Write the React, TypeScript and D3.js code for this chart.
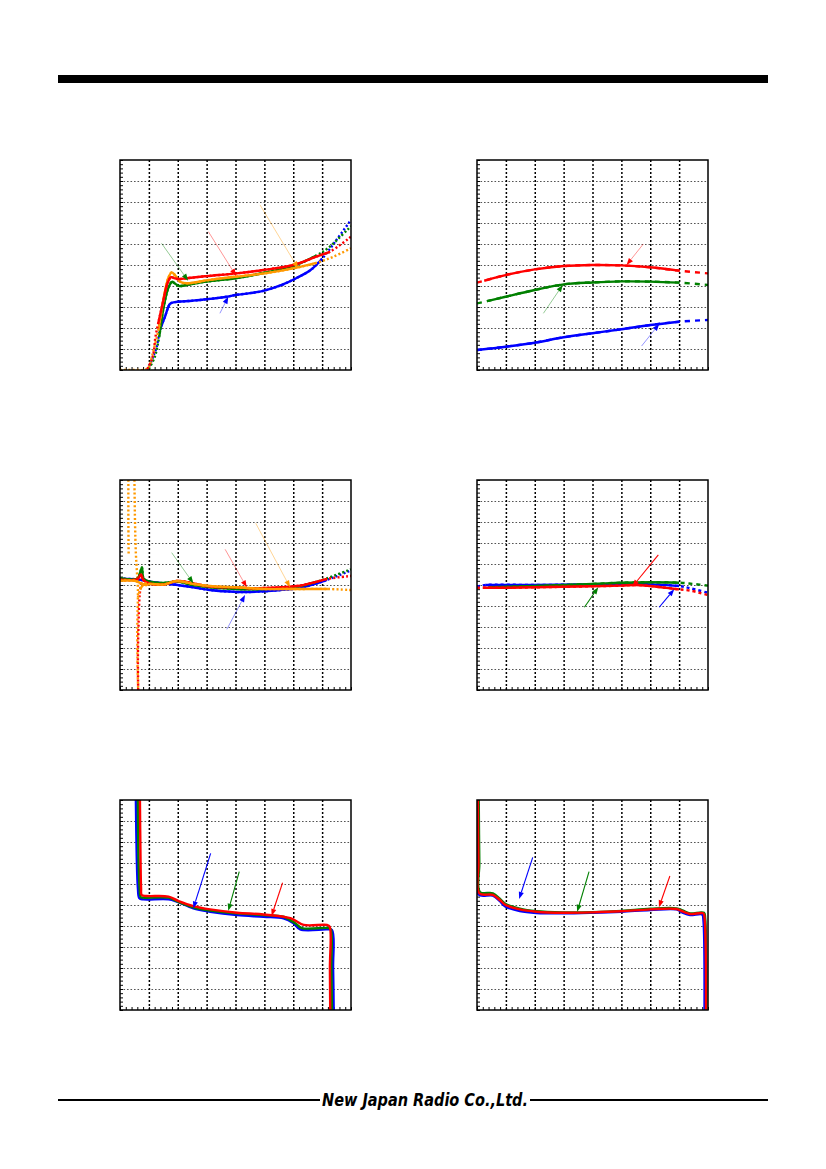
import { useEffect, useRef } from "react";
import * as d3 from "d3";

type Pt = [number, number];

// Grid units: 8 horizontal divisions, 10 vertical divisions per panel (axis labels are blank on the page)

// ── Panel 1 ──────────────────────────────────────────────────────────────────
const p1Blue: Pt[] = [[0.92, 0], [1.05, 0.3], [1.15, 0.65], [1.27, 1.1], [1.38, 1.9], [1.56, 2.55], [1.73, 3.15], [1.85, 3.22], [2.5, 3.3], [3.0, 3.37], [3.7, 3.49], [4.0, 3.57], [4.5, 3.66], [5.0, 3.78], [5.6, 4.05], [6.1, 4.37], [6.6, 4.76], [7.0, 5.3], [7.5, 6.2], [8.0, 7.15]];
const p1Green: Pt[] = [[1.0, 0.05], [1.2, 0.6], [1.28, 1.03], [1.36, 1.6], [1.5, 2.9], [1.67, 3.9], [1.8, 4.2], [1.9, 4.12], [2.05, 4.0], [2.3, 4.05], [3.0, 4.21], [4.0, 4.37], [5.0, 4.63], [6.0, 4.95], [6.8, 5.45], [7.2, 5.8], [8.0, 6.85]];
const p1Orange: Pt[] = [[0, 0], [0.5, 0], [0.9, 0.03], [1.02, 0.2], [1.1, 0.6], [1.2, 1.15], [1.33, 1.9], [1.5, 3.33], [1.67, 4.37], [1.79, 4.65], [1.9, 4.52], [2.08, 4.2], [2.31, 4.13], [3.1, 4.29], [4.0, 4.44], [5.0, 4.6], [6.0, 4.84], [6.8, 5.1], [7.4, 5.4], [8.0, 5.8]];
const p1Red: Pt[] = [[0.95, 0.05], [1.1, 0.5], [1.17, 0.87], [1.22, 1.5], [1.32, 2.2], [1.5, 3.3], [1.65, 4.15], [1.77, 4.42], [1.9, 4.36], [2.05, 4.33], [2.31, 4.37], [3.0, 4.47], [4.04, 4.6], [4.96, 4.76], [6.0, 5.0], [6.8, 5.4], [7.27, 5.63], [8.0, 6.35]];
const p1Arrows = [
  { c: "green", from: [1.44, 6.03] as Pt, to: [2.36, 4.25] as Pt },
  { c: "red", from: [3.06, 6.59] as Pt, to: [4.02, 4.48] as Pt },
  { c: "orange", from: [4.85, 7.86] as Pt, to: [6.17, 4.84] as Pt },
  { c: "blue", from: [3.46, 2.7] as Pt, to: [3.75, 3.49] as Pt },
];

// ── Panel 2 ──────────────────────────────────────────────────────────────────
const p2Red: Pt[] = [[0, 4.16], [0.25, 4.25], [0.99, 4.52], [2.0, 4.79], [3.0, 4.95], [4.0, 5.0], [5.0, 4.98], [6.0, 4.89], [7.0, 4.73], [8.0, 4.6]];
const p2Green: Pt[] = [[0, 3.17], [0.35, 3.28], [0.99, 3.49], [2.0, 3.81], [3.0, 4.08], [4.0, 4.17], [5.0, 4.22], [6.0, 4.21], [7.0, 4.16], [8.0, 4.05]];
const p2Blue: Pt[] = [[0, 0.95], [0.99, 1.11], [2.0, 1.3], [3.0, 1.56], [4.0, 1.75], [5.0, 1.94], [6.0, 2.14], [7.0, 2.3], [8.0, 2.38]];
const p2Arrows = [
  { c: "red", from: [5.76, 6.0] as Pt, to: [5.18, 5.0] as Pt },
  { c: "green", from: [2.3, 2.7] as Pt, to: [2.97, 4.05] as Pt },
  { c: "blue", from: [5.7, 1.14] as Pt, to: [6.31, 2.19] as Pt },
];

// ── Panel 3 ──────────────────────────────────────────────────────────────────
const p3Blue: Pt[] = [[0, 5.3], [0.6, 5.27], [0.75, 5.24], [1.04, 5.16], [1.5, 5.08], [2.0, 5.0], [2.54, 4.89], [3.12, 4.76], [4.05, 4.67], [4.5, 4.67], [5.0, 4.7], [5.55, 4.76], [6.13, 4.84], [6.82, 5.08], [7.17, 5.24], [8.0, 5.7]];
const p3Green: Pt[] = [[0, 5.32], [0.6, 5.3], [0.7, 5.6], [0.76, 5.84], [0.82, 5.3], [1.04, 5.16], [1.5, 5.1], [1.97, 5.16], [2.54, 5.0], [3.12, 4.89], [4.05, 4.81], [4.5, 4.79], [5.0, 4.81], [5.55, 4.84], [6.13, 4.92], [6.82, 5.16], [7.17, 5.32], [8.0, 5.75]];
const p3Red: Pt[] = [[0, 5.25], [0.6, 5.28], [0.73, 5.5], [0.8, 5.25], [1.0, 5.08], [1.5, 5.02], [1.97, 5.19], [2.54, 5.08], [3.12, 4.92], [4.05, 4.89], [4.5, 4.84], [5.0, 4.86], [5.55, 4.89], [6.13, 4.95], [6.82, 5.16], [7.17, 5.29], [8.0, 5.43]];
const p3Orange: Pt[] = [[0, 5.2], [0.5, 5.2], [0.9, 5.0], [1.04, 5.05], [1.5, 5.02], [1.97, 5.19], [2.54, 5.05], [3.12, 4.95], [4.05, 4.89], [5.0, 4.81], [6.0, 4.81], [7.2, 4.81], [8.0, 4.76]];
const p3OrangeSpikeA: Pt[] = [[0.29, 10], [0.29, 8], [0.3, 6.4]];
const p3OrangeSpikeB: Pt[] = [[0.5, 10], [0.52, 8], [0.55, 6.5], [0.58, 5.75], [0.62, 4.8], [0.6, 3], [0.61, 1], [0.63, 0]];
const p3RedSpike: Pt[] = [[0.75, 5.3], [0.68, 4.5], [0.64, 3], [0.62, 1.5], [0.63, 0]];
const p3OrangeRise: Pt[] = [[0.62, 4.4], [0.7, 4.8], [0.8, 5.0], [0.92, 5.1]];
const p3Arrows = [
  { c: "green", from: [1.79, 6.54] as Pt, to: [2.54, 5.08] as Pt },
  { c: "red", from: [3.64, 6.7] as Pt, to: [4.39, 4.89] as Pt },
  { c: "orange", from: [4.7, 7.94] as Pt, to: [5.89, 4.89] as Pt },
  { c: "blue", from: [3.7, 2.89] as Pt, to: [4.33, 4.52] as Pt },
];

// ── Panel 4 ──────────────────────────────────────────────────────────────────
const p4Blue: Pt[] = [[0, 4.92], [0.3, 5.0], [2.0, 5.0], [4.0, 5.03], [5.0, 5.05], [6.0, 5.03], [7.0, 4.95], [7.4, 4.84], [8.0, 4.63]];
const p4Green: Pt[] = [[0.4, 4.89], [2.0, 4.95], [4.0, 5.05], [5.0, 5.11], [6.0, 5.13], [7.0, 5.11], [7.5, 5.05], [8.0, 4.97]];
const p4Red: Pt[] = [[0, 4.87], [0.2, 4.87], [1.0, 4.87], [2.0, 4.89], [4.0, 4.94], [5.0, 4.97], [5.5, 5.0], [6.0, 4.95], [6.7, 4.84], [7.0, 4.79], [7.4, 4.73], [8.0, 4.52]];
const p4Arrows = [
  { c: "red", from: [6.28, 6.43] as Pt, to: [5.38, 4.92] as Pt },
  { c: "green", from: [3.72, 3.94] as Pt, to: [4.2, 4.89] as Pt },
  { c: "blue", from: [6.31, 3.94] as Pt, to: [6.83, 4.8] as Pt },
];

// ── Panel 5 ──────────────────────────────────────────────────────────────────
const p5Blue: Pt[] = [[0.55, 10], [0.58, 7.3], [0.62, 5.8], [0.67, 5.32], [0.81, 5.27], [1.68, 5.27], [1.97, 5.16], [2.54, 4.84], [3.12, 4.68], [4.05, 4.52], [4.97, 4.44], [5.66, 4.37], [6.01, 4.13], [6.24, 3.84], [7.17, 3.84], [7.34, 3.81], [7.38, 2], [7.4, 0]];
const p5Green: Pt[] = [[0.62, 10], [0.64, 7.3], [0.68, 5.8], [0.72, 5.37], [0.81, 5.35], [1.68, 5.35], [2.0, 5.16], [2.54, 4.89], [3.12, 4.73], [4.05, 4.6], [4.97, 4.52], [5.66, 4.44], [6.07, 4.13], [6.3, 3.9], [7.23, 3.9], [7.3, 3.84], [7.32, 2], [7.34, 0]];
const p5Red: Pt[] = [[0.69, 10], [0.71, 7.3], [0.73, 5.8], [0.75, 5.48], [0.92, 5.43], [1.68, 5.4], [2.03, 5.19], [2.54, 4.95], [3.12, 4.79], [4.05, 4.63], [4.97, 4.55], [5.9, 4.37], [6.36, 4.05], [7.17, 4.05], [7.26, 3.97], [7.27, 2], [7.28, 0]];
const p5Arrows = [
  { c: "blue", from: [3.14, 7.46] as Pt, to: [2.54, 4.84] as Pt },
  { c: "green", from: [4.13, 6.59] as Pt, to: [3.75, 4.73] as Pt },
  { c: "red", from: [5.63, 6.06] as Pt, to: [5.25, 4.48] as Pt },
];

// ── Panel 6 ──────────────────────────────────────────────────────────────────
const p6Blue: Pt[] = [[0.0, 10], [0.02, 7], [0.05, 5.5], [0.55, 5.45], [0.79, 5.18], [0.99, 4.92], [1.48, 4.71], [2.06, 4.62], [2.98, 4.6], [4.0, 4.63], [5.0, 4.68], [6.0, 4.76], [6.91, 4.79], [7.14, 4.62], [7.38, 4.52], [7.8, 4.55], [7.84, 4.3], [7.88, 0]];
const p6Green: Pt[] = [[0.06, 10], [0.08, 7], [0.1, 5.62], [0.55, 5.56], [0.79, 5.3], [0.99, 5.05], [1.48, 4.82], [2.06, 4.7], [2.98, 4.65], [4.0, 4.66], [5.0, 4.72], [6.0, 4.82], [6.91, 4.84], [7.14, 4.73], [7.38, 4.6], [7.86, 4.63], [7.9, 4.4], [7.94, 0]];
const p6Red: Pt[] = [[0.03, 10], [0.05, 7], [0.08, 5.56], [0.55, 5.48], [0.79, 5.24], [0.99, 5.0], [1.48, 4.79], [2.06, 4.68], [2.98, 4.63], [4.0, 4.65], [5.0, 4.7], [6.0, 4.79], [6.91, 4.81], [7.14, 4.68], [7.38, 4.57], [7.84, 4.6], [7.88, 4.4], [7.93, 0]];
const p6Arrows = [
  { c: "blue", from: [1.93, 7.27] as Pt, to: [1.46, 5.29] as Pt },
  { c: "green", from: [3.88, 6.59] as Pt, to: [3.47, 4.68] as Pt },
  { c: "red", from: [6.68, 6.38] as Pt, to: [6.3, 4.89] as Pt },
];

const COLORS: Record<string, string> = {
  red: "#ff0000",
  green: "#008000",
  blue: "#0000ff",
  orange: "#ff9900",
};

interface Series {
  c: string;
  pts: Pt[];
  solid: [number, number] | null;
  dash?: string;
}

const PW = 231;
const PH = 210;

const PANELS: { left: number; top: number; series: Series[]; arrows: { c: string; from: Pt; to: Pt }[]; faint: boolean }[] = [
  {
    left: 120, top: 160, faint: true, arrows: p1Arrows,
    series: [
      { c: "blue", pts: p1Blue, solid: [1.38, 7.0] },
      { c: "green", pts: p1Green, solid: [1.36, 6.8] },
      { c: "orange", pts: p1Orange, solid: [1.33, 6.8] },
      { c: "red", pts: p1Red, solid: [1.32, 7.27] },
    ],
  },
  {
    left: 477, top: 160, faint: true, arrows: p2Arrows,
    series: [
      { c: "red", pts: p2Red, solid: [0.25, 7.0], dash: "5,5" },
      { c: "green", pts: p2Green, solid: [0.35, 7.0], dash: "5,5" },
      { c: "blue", pts: p2Blue, solid: [0, 7.0], dash: "5,5" },
    ],
  },
  {
    left: 120, top: 480, faint: true, arrows: p3Arrows,
    series: [
      { c: "orange", pts: p3OrangeSpikeA, solid: null },
      { c: "orange", pts: p3OrangeSpikeB, solid: null },
      { c: "red", pts: p3RedSpike, solid: null },
      { c: "blue", pts: p3Blue, solid: [0, 7.17] },
      { c: "green", pts: p3Green, solid: [0, 6.82] },
      { c: "red", pts: p3Red, solid: [0, 7.17] },
      { c: "orange", pts: p3OrangeRise, solid: [0.7, 0.92] },
      { c: "orange", pts: p3Orange, solid: [0, 7.2] },
    ],
  },
  {
    left: 477, top: 480, faint: false, arrows: p4Arrows,
    series: [
      { c: "blue", pts: p4Blue, solid: [0.3, 7.0], dash: "3,3" },
      { c: "green", pts: p4Green, solid: [0.4, 7.0], dash: "4,4" },
      { c: "red", pts: p4Red, solid: [0.2, 7.0], dash: "3,3" },
    ],
  },
  {
    left: 120, top: 800, faint: false, arrows: p5Arrows,
    series: [
      { c: "blue", pts: p5Blue, solid: [0, 8] },
      { c: "green", pts: p5Green, solid: [0, 8] },
      { c: "red", pts: p5Red, solid: [0, 8] },
    ],
  },
  {
    left: 477, top: 800, faint: false, arrows: p6Arrows,
    series: [
      { c: "blue", pts: p6Blue, solid: [0, 8] },
      { c: "green", pts: p6Green, solid: [0, 8] },
      { c: "red", pts: p6Red, solid: [0, 8] },
    ],
  },
];

export default function App() {
  const svgRef = useRef<SVGSVGElement>(null);

  useEffect(() => {
    if (!svgRef.current) return;
    const svg = d3.select(svgRef.current);
    svg.selectAll("*").remove();

    svg.append("rect").attr("width", 826).attr("height", 1169).attr("fill", "#fff");

    // ── Header bar ────────────────────────────────────────────────────────────
    svg.append("rect").attr("x", 58).attr("y", 75).attr("width", 710).attr("height", 8).attr("fill", "#000");

    // ── Footer ────────────────────────────────────────────────────────────────
    svg.append("line").attr("x1", 58).attr("x2", 320).attr("y1", 1100).attr("y2", 1100).attr("stroke", "#000").attr("stroke-width", 2);
    svg.append("line").attr("x1", 530).attr("x2", 768).attr("y1", 1100).attr("y2", 1100).attr("stroke", "#000").attr("stroke-width", 2);
    svg.append("text")
      .attr("x", 322)
      .attr("y", 1106)
      .attr("font-family", "'DejaVu Sans Condensed', 'Liberation Sans Narrow', sans-serif")
      .attr("font-style", "italic")
      .attr("font-weight", "bold")
      .attr("font-size", 17)
      .attr("textLength", 206)
      .attr("lengthAdjust", "spacingAndGlyphs")
      .attr("fill", "#000")
      .text("New Japan Radio Co.,Ltd.");

    const x = d3.scaleLinear().domain([0, 8]).range([0, PW]);
    const y = d3.scaleLinear().domain([0, 10]).range([PH, 0]);
    const line = d3
      .line<Pt>()
      .x((d) => x(d[0]))
      .y((d) => y(d[1]))
      .curve(d3.curveCatmullRom.alpha(0.5));

    PANELS.forEach((p, i) => {
      const g = svg.append("g").attr("transform", `translate(${p.left},${p.top})`);

      // horizontal grid
      const hg = g.append("g").call(d3.axisLeft(y).tickValues(d3.range(1, 10)).tickSize(-PW).tickFormat(() => ""));
      hg.select(".domain").remove();
      hg.selectAll("line").attr("stroke", "#555").attr("stroke-width", 1.1).attr("stroke-dasharray", "1.6,1.9");

      // vertical grid
      const vg = g
        .append("g")
        .attr("transform", `translate(0,${PH})`)
        .call(d3.axisBottom(x).tickValues(d3.range(1, 8)).tickSize(-PH).tickFormat(() => ""));
      vg.select(".domain").remove();
      vg.selectAll("line").attr("stroke", "#000").attr("stroke-width", 1.5).attr("stroke-dasharray", "2,2");

      // minor ticks (inward)
      const ly = g.append("g").call(d3.axisLeft(y).tickValues(d3.range(0, 10.001, 0.2)).tickSize(-3).tickFormat(() => ""));
      ly.select(".domain").remove();
      ly.selectAll("line").attr("stroke", "#000").attr("stroke-width", 1);
      const bx = g
        .append("g")
        .attr("transform", `translate(0,${PH})`)
        .call(d3.axisBottom(x).tickValues(d3.range(0, 8.001, 0.2)).tickSize(-3).tickFormat(() => ""));
      bx.select(".domain").remove();
      bx.selectAll("line").attr("stroke", "#000").attr("stroke-width", 1);

      // curves
      const clipId = `panel-clip-${i}`;
      g.append("clipPath").attr("id", clipId).append("rect").attr("width", PW).attr("height", PH);
      const plot = g.append("g").attr("clip-path", `url(#${clipId})`);

      p.series.forEach((s) => {
        const col = COLORS[s.c];
        const fullSolid = s.solid && s.solid[0] <= s.pts[0][0] && s.solid[1] >= s.pts[s.pts.length - 1][0];
        if (!fullSolid) {
          plot.append("path")
            .datum(s.pts)
            .attr("d", line)
            .attr("fill", "none")
            .attr("stroke", col)
            .attr("stroke-width", 2.4)
            .attr("stroke-dasharray", s.dash ?? "2,2.2");
        }
        if (s.solid) {
          const [a, b] = s.solid;
          const sp = s.pts.filter((d) => d[0] >= a - 1e-9 && d[0] <= b + 1e-9);
          plot.append("path")
            .datum(sp)
            .attr("d", line)
            .attr("fill", "none")
            .attr("stroke", col)
            .attr("stroke-width", 2.4)
            .attr("stroke-linejoin", "round");
        }
      });

      // frame
      g.append("rect").attr("width", PW).attr("height", PH).attr("fill", "none").attr("stroke", "#000").attr("stroke-width", 1.5);

      // arrows
      p.arrows.forEach((a) => {
        const col = COLORS[a.c];
        const x1 = x(a.from[0]), y1 = y(a.from[1]);
        const x2 = x(a.to[0]), y2 = y(a.to[1]);
        const ang = Math.atan2(y2 - y1, x2 - x1);
        const L = 7, w = 2.6;
        const bxp = x2 - L * Math.cos(ang), byp = y2 - L * Math.sin(ang);
        g.append("line")
          .attr("x1", x1).attr("y1", y1).attr("x2", bxp).attr("y2", byp)
          .attr("stroke", col)
          .attr("stroke-width", p.faint ? 0.7 : 1.1)
          .attr("stroke-opacity", p.faint ? 0.6 : 1);
        g.append("polygon")
          .attr("points", [
            [x2, y2],
            [bxp + w * Math.sin(ang), byp - w * Math.cos(ang)],
            [bxp - w * Math.sin(ang), byp + w * Math.cos(ang)],
          ].map((q) => q.join(",")).join(" "))
          .attr("fill", col);
      });
    });
  }, []);

  return (
    <svg
      ref={svgRef}
      width={826}
      height={1169}
      style={{ position: "absolute", left: 0, top: 0, display: "block" }}
    />
  );
}
